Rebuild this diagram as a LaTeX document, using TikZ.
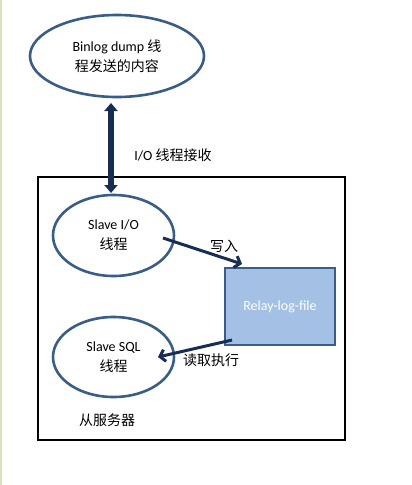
\documentclass[tikz,border=0pt]{standalone}
\usepackage{fontspec}
\setmainfont{Carlito}
\newfontfamily\cjk{Noto Sans CJK SC}
\usetikzlibrary{arrows.meta, shapes.geometric}
\definecolor{ringblue}{RGB}{56,93,138}
\definecolor{arrownavy}{RGB}{23,45,84}
\definecolor{fileblue}{RGB}{164,192,228}
\definecolor{edgegreen}{RGB}{215,228,190}

\begin{document}
\begin{tikzpicture}[
        x=1pt, y=-1pt,
        thread/.style={ellipse, draw=ringblue, line width=2.6pt, inner sep=0pt, align=center,
            font=\fontsize{14}{20}\selectfont},
        filebox/.style={rectangle, draw=ringblue, line width=1.3pt, fill=fileblue,
            text=white, font=\fontsize{14}{20}\selectfont},
        label/.style={font=\fontsize{14}{20}\selectfont, inner sep=0pt},
        flow/.style={-{Straight Barb[length=5pt, width=12pt, line width=3pt]}, line width=3pt, arrownavy},
        sync/.style={{Triangle[length=8pt, width=13pt]}-{Triangle[length=8pt, width=13pt]}, line width=6pt, arrownavy}
    ]
    \useasboundingbox (0,0) rectangle (412,485);
    \fill[edgegreen] (0,0) rectangle (1.5,485);

    % Master side
    \node[thread, minimum width=174pt, minimum height=82pt] (dump) at (117,56)
        {Binlog dump {\cjk 线}\\{\cjk 程发送的内容}};

    % Slave server
    \node[draw, line width=2pt, minimum width=307pt, minimum height=263pt, inner sep=0pt] (slave) at (191.5,308.5) {};
    \node[thread, minimum width=121pt, minimum height=81pt] (io) at (113.5,235.5)
        {Slave I/O\\{\cjk 线程}};
    \node[thread, minimum width=121pt, minimum height=80pt] (sql) at (113.5,357)
        {Slave SQL\\{\cjk 线程}};
    \node[filebox, minimum width=110pt, minimum height=77pt] (relay) at (280,306.5) {Relay-log-file};

    % Connections
    \coordinate (syncTop) at (111,103);
    \coordinate (syncBot) at (111,193);
    \draw[sync] (syncTop) -- (syncBot);
    \coordinate (ioOut) at (163,238);
    \coordinate (relayIn) at (242,264);
    \draw[flow] (ioOut) -- (relayIn);
    \coordinate (relayOut) at (232,340);
    \coordinate (sqlIn) at (158,357);
    \draw[flow] (relayOut) -- (sqlIn);

    % Labels
    \node[label] (recv) at (173,155) {I/O {\cjk 线程接收}};
    \node[label] (write) at (224,246) {\cjk 写入};
    \node[label] (read) at (211,360) {\cjk 读取执行};
    \node[label] (server) at (107,420) {\cjk 从服务器};
\end{tikzpicture}
\end{document}
